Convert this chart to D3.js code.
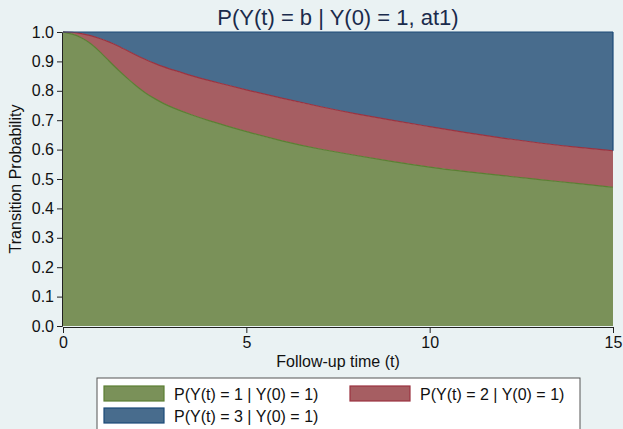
<!DOCTYPE html>
<html>
<head>
<meta charset="utf-8">
<script src="https://cdn.jsdelivr.net/npm/d3@7"></script>
<style>
  body { margin: 0; background: #eaf2f3; }
  svg { display: block; font-family: "Liberation Sans", Arial, sans-serif; }
</style>
</head>
<body>
<svg id="chart" width="623" height="429"></svg>
<script>
const width = 623;
const height = 429;

// time points (follow-up time t)
const times = [0, 0.25, 0.5, 0.75, 1, 1.25, 1.5, 1.75, 2, 2.25, 2.5, 2.75, 3, 3.5, 4, 4.5, 5, 6, 7, 8, 9, 10, 11, 12, 13, 14, 15];
// P(Y(t) = 1 | Y(0) = 1)
const p1 = [1.0, 0.994, 0.982, 0.962, 0.934, 0.902, 0.871, 0.843, 0.816, 0.792, 0.773, 0.756, 0.742, 0.718, 0.697, 0.679, 0.661, 0.628, 0.601, 0.580, 0.559, 0.540, 0.525, 0.511, 0.498, 0.485, 0.472];
// P(Y(t) = 2 | Y(0) = 1)
const p2 = [0, 0.006, 0.013, 0.026, 0.044, 0.065, 0.082, 0.094, 0.105, 0.114, 0.120, 0.125, 0.129, 0.133, 0.137, 0.140, 0.142, 0.146, 0.145, 0.141, 0.140, 0.138, 0.132, 0.128, 0.124, 0.123, 0.124];
// P(Y(t) = 3 | Y(0) = 1)
const p3 = [0, 0, 0.005, 0.012, 0.022, 0.033, 0.047, 0.063, 0.079, 0.094, 0.107, 0.119, 0.129, 0.149, 0.166, 0.181, 0.197, 0.226, 0.254, 0.279, 0.301, 0.322, 0.343, 0.361, 0.378, 0.392, 0.404];

const seriesKeys = ["s1", "s2", "s3"];
const seriesLabels = ["P(Y(t) = 1 | Y(0) = 1)", "P(Y(t) = 2 | Y(0) = 1)", "P(Y(t) = 3 | Y(0) = 1)"];
const fills = ["#7a9159", "#a65e62", "#486c8d"];
const strokes = ["#5b7f33", "#9b3340", "#1c4a78"];

const xTicks = [0, 5, 10, 15];
const yTicks = [0, 0.1, 0.2, 0.3, 0.4, 0.5, 0.6, 0.7, 0.8, 0.9, 1.0];

const rows = times.map((t, i) => ({t: t, s1: p1[i], s2: p2[i], s3: p3[i]}));

const margin = {left: 63, right: 10, top: 32, bottom: 103};
const svg = d3.select("#chart");

const x = d3.scaleLinear().domain([0, 15]).range([margin.left, width - margin.right]);
const y = d3.scaleLinear().domain([0, 1]).range([height - margin.bottom, margin.top]);

const stacked = d3.stack().keys(seriesKeys)(rows);

const area = d3.area()
    .x(d => x(d.data.t))
    .y0(d => y(d[0]))
    .y1(d => y(d[1]))
    .curve(d3.curveBasis);

const topLine = d3.line()
    .x(d => x(d.data.t))
    .y(d => y(d[1]))
    .curve(d3.curveBasis);

// draw top layer first so lower ones sit on top
stacked.slice().reverse().forEach(layer => {
    const i = seriesKeys.indexOf(layer.key);
    svg.append("path")
        .datum(layer)
        .attr("d", area)
        .attr("fill", fills[i]);
});
stacked.forEach((layer, i) => {
    svg.append("path")
        .datum(layer)
        .attr("d", topLine)
        .attr("fill", "none")
        .attr("stroke", strokes[i])
        .attr("stroke-width", 1.2);
});
// right edge of the blue band
svg.append("line")
    .attr("x1", x(15)).attr("x2", x(15))
    .attr("y1", y(1)).attr("y2", y(1 - p3[p3.length - 1]))
    .attr("stroke", strokes[2]).attr("stroke-width", 1.2);

// axes
const yAxis = svg.append("g")
    .attr("transform", `translate(${margin.left - 1},0)`)
    .call(d3.axisLeft(y).tickValues(yTicks).tickFormat(d3.format(".1f")).tickSize(5).tickPadding(3));
const xAxis = svg.append("g")
    .attr("transform", `translate(0,${height - margin.bottom + 1})`)
    .call(d3.axisBottom(x).tickValues(xTicks).tickSize(6).tickPadding(4));

[yAxis, xAxis].forEach(g => {
    g.select(".domain").attr("stroke", "#222");
    g.selectAll(".tick line").attr("stroke", "#222");
    g.selectAll(".tick text").attr("fill", "#111").attr("font-size", 16)
        .attr("font-family", "Liberation Sans, Arial, sans-serif");
});

// title and axis titles
svg.append("text")
    .attr("x", (margin.left + width - margin.right) / 2)
    .attr("y", 25)
    .attr("text-anchor", "middle")
    .attr("font-size", 22)
    .attr("fill", "#1a2b4c")
    .text("P(Y(t) = b | Y(0) = 1, at1)");

svg.append("text")
    .attr("transform", `translate(20.5,${(y(0) + y(1)) / 2}) rotate(-90)`)
    .attr("text-anchor", "middle")
    .attr("font-size", 16)
    .attr("fill", "#111")
    .text("Transition Probability");

svg.append("text")
    .attr("x", (margin.left + width - margin.right) / 2)
    .attr("y", 367)
    .attr("text-anchor", "middle")
    .attr("font-size", 16)
    .attr("fill", "#111")
    .text("Follow-up time (t)");

// legend
const legend = svg.append("g");
legend.append("rect")
    .attr("x", 97).attr("y", 378)
    .attr("width", 483).attr("height", 60)
    .attr("fill", "#fff").attr("stroke", "#555").attr("stroke-width", 1);

const legendPos = [[104, 386], [350, 386], [104, 408]];
seriesKeys.forEach((k, i) => {
    const [lx, ly] = legendPos[i];
    legend.append("rect")
        .attr("x", lx).attr("y", ly)
        .attr("width", 60).attr("height", 15)
        .attr("fill", fills[i]).attr("stroke", strokes[i]).attr("stroke-width", 1.2);
    legend.append("text")
        .attr("x", lx + 70).attr("y", ly + 14)
        .attr("font-size", 16)
        .attr("fill", "#111")
        .text(seriesLabels[i]);
});
</script>
</body>
</html>
